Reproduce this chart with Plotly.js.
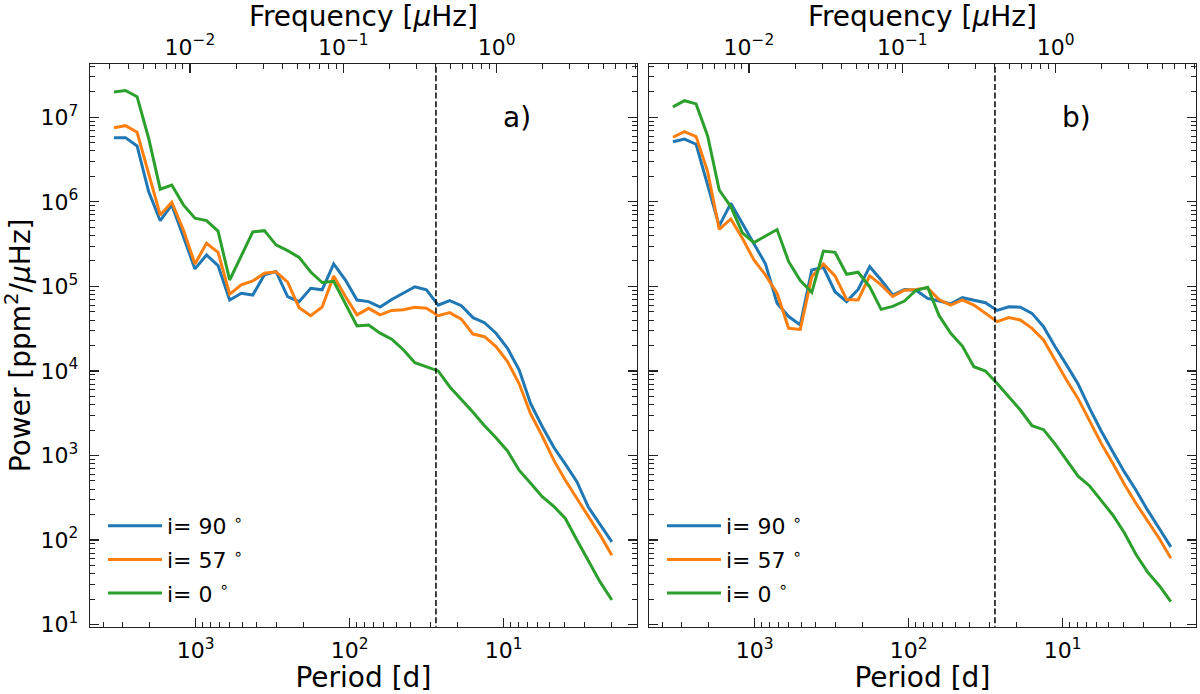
<!DOCTYPE html>
<html><head><meta charset="utf-8">
<script src="https://cdn.plot.ly/plotly-3.0.1.min.js"></script>
<style>html,body{margin:0;padding:0;background:#fff}#chart{width:1200px;height:694px}</style>
</head><body><div id="chart"></div>
<script>
// ---- data ----
const periods = [3401, 2860, 2405, 2023, 1701, 1431, 1203, 1012, 851, 716, 602, 506, 426, 358, 301, 253, 213, 179, 151, 127,
  106.5, 89.6, 75.3, 63.4, 53.3, 44.8, 37.7, 31.7, 26.6, 22.4, 18.8, 15.8, 13.3, 11.2, 9.43, 7.93, 6.67, 5.61, 4.72, 3.97, 3.34, 2.81, 2.36, 1.98];

const seriesLabels = ['i= 90 <sup>∘</sup>', 'i= 57 <sup>∘</sup>', 'i= 0 <sup>∘</sup>'];
const seriesColors = ['#1f77b4', '#ff7f0e', '#2ca02c'];

// panel a)
const powerA_i90 = [5.74e6, 5.74e6, 4.58e6, 1.32e6, 5.98e5, 9.2e5, 3.87e5, 1.61e5, 2.35e5, 1.76e5, 6.9e4, 8.3e4, 7.9e4, 1.37e5, 1.5e5, 7.55e4, 6.6e4, 9.5e4, 9.1e4, 1.84e5,
  1.19e5, 6.9e4, 6.6e4, 5.7e4, 7.0e4, 8.4e4, 9.9e4, 9.1e4, 6.0e4, 6.8e4, 5.9e4, 4.27e4, 3.72e4, 2.79e4, 1.85e4, 1.03e4, 4.1e3, 2.2e3, 1.25e3, 790, 490, 244, 150, 95];
const powerA_i57 = [7.53e6, 7.96e6, 6.65e6, 2.18e6, 6.98e5, 9.9e5, 4.65e5, 1.84e5, 3.24e5, 2.53e5, 8.1e4, 1.04e5, 1.16e5, 1.43e5, 1.49e5, 1.12e5, 5.6e4, 4.5e4, 5.7e4, 1.33e5,
  7.6e4, 4.6e4, 5.5e4, 4.6e4, 5.2e4, 5.3e4, 5.67e4, 5.5e4, 4.5e4, 4.9e4, 4.1e4, 2.73e4, 2.54e4, 1.94e4, 1.29e4, 7.1e3, 3.1e3, 1.7e3, 880, 510, 310, 190, 115, 66];
const powerA_i0 = [1.99e7, 2.07e7, 1.75e7, 5.65e6, 1.41e6, 1.58e6, 9.2e5, 6.4e5, 6.0e5, 4.5e5, 1.19e5, 2.25e5, 4.4e5, 4.56e5, 3.1e5, 2.65e5, 2.2e5, 1.48e5, 1.11e5, 1.15e5,
  6.2e4, 3.4e4, 3.5e4, 2.8e4, 2.37e4, 1.78e4, 1.25e4, 1.12e4, 1.0e4, 6.5e3, 4.6e3, 3.25e3, 2.25e3, 1.62e3, 1.13e3, 670, 470, 326, 250, 180, 100, 57, 32, 19.5];

// panel b)
const powerB_i90 = [5.14e6, 5.53e6, 4.8e6, 1.58e6, 5.2e5, 9.6e5, 5.6e5, 3.24e5, 1.84e5, 6.3e4, 4.4e4, 3.5e4, 1.56e5, 1.68e5, 8.65e4, 6.6e4, 9.2e4, 1.71e5, 1.19e5, 7.9e4,
  9.2e4, 9.0e4, 7.2e4, 6.7e4, 6.2e4, 7.35e4, 6.9e4, 6.4e4, 5.2e4, 5.75e4, 5.67e4, 4.8e4, 3.34e4, 1.94e4, 1.18e4, 7.0e3, 3.6e3, 1.95e3, 1.11e3, 640, 390, 227, 138, 83];
const powerB_i57 = [5.8e6, 6.76e6, 5.9e6, 2.28e6, 4.73e5, 6.27e5, 3.7e5, 2.05e5, 1.36e5, 8.3e4, 3.19e4, 3.1e4, 1.3e5, 1.84e5, 1.33e5, 7.0e4, 6.9e4, 1.33e5, 1.04e5, 7.6e4,
  9.0e4, 9.2e4, 9.6e4, 6.95e4, 6.0e4, 6.9e4, 6.0e4, 4.8e4, 3.83e4, 4.27e4, 4.0e4, 3.19e4, 2.32e4, 1.35e4, 7.8e3, 4.7e3, 2.5e3, 1.39e3, 810, 456, 272, 168, 105, 61];
const powerB_i0 = [1.33e7, 1.57e7, 1.44e7, 6.0e6, 1.38e6, 8.8e5, 4.3e5, 3.29e5, 3.94e5, 4.7e5, 1.96e5, 1.17e5, 8.5e4, 2.62e5, 2.53e5, 1.39e5, 1.47e5, 9.9e4, 5.35e4, 5.8e4,
  6.7e4, 9.0e4, 9.75e4, 4.5e4, 2.79e4, 1.97e4, 1.12e4, 9.98e3, 7.1e3, 4.9e3, 3.45e3, 2.25e3, 2.02e3, 1.37e3, 900, 570, 436, 290, 198, 122, 68, 42, 29, 18.7];

const rotationPeriod = 27.5;   // dashed vertical line [d]

const periodTickVals = [1000, 100, 10];
const periodTickText = ['10<sup>3</sup>', '10<sup>2</sup>', '10<sup>1</sup>'];
const freqTickVals = [0.01, 0.1, 1];
const freqTickText = ['10<sup>−2</sup>', '10<sup>−1</sup>', '10<sup>0</sup>'];
const powerTickVals = [10, 100, 1000, 1e4, 1e5, 1e6, 1e7];
const powerTickText = ['10<sup>1</sup>', '10<sup>2</sup>', '10<sup>3</sup>', '10<sup>4</sup>', '10<sup>5</sup>', '10<sup>6</sup>', '10<sup>7</sup>'];
const panelLabels = ['a)', 'b)'];

// ---- figure ----
const FONT = 'DejaVu Sans, Liberation Sans, sans-serif';
const AXC = '#222';
const panelsData = [[powerA_i90, powerA_i57, powerA_i0], [powerB_i90, powerB_i57, powerB_i0]];
const muHzPerInvDay = 1e6 / 86400;

const traces = [];
panelsData.forEach((set, p) => {
  const xa = p === 0 ? 'x' : 'x2', ya = p === 0 ? 'y' : 'y2';
  set.forEach((vals, k) => {
    traces.push({
      type: 'scatter', mode: 'lines', x: periods, y: vals, xaxis: xa, yaxis: ya,
      name: seriesLabels[k], line: {color: seriesColors[k], width: 3},
      legend: p === 0 ? 'legend' : 'legend2', legendgroup: 'g' + p + k, hoverinfo: 'skip'
    });
  });
  traces.push({
    type: 'scatter', mode: 'lines', x: [rotationPeriod, rotationPeriod], y: [1, 1e8], xaxis: xa, yaxis: ya,
    line: {color: 'black', width: 1.5, dash: '6px,2.6px'}, showlegend: false, hoverinfo: 'skip'
  });
  // invisible trace carrying the frequency axis
  traces.push({
    type: 'scatter', mode: 'lines', x: periods.map(v => muHzPerInvDay / v), y: set[0],
    xaxis: p === 0 ? 'x3' : 'x4', yaxis: ya, opacity: 0, line: {width: 0},
    showlegend: false, hoverinfo: 'skip'
  });
});

const xRange = [3.687, 0.1345];
const fRange = [-2.652, 0.9146];
const yRange = [0.975, 7.63];
const yDom = [1 - 626.7 / 694, 1 - 64 / 694];
const domA = [90 / 1200, 636.8 / 1200];
const domB = [649 / 1200, 1195.8 / 1200];

function periodAxis(dom, anchor) {
  return {
    domain: dom, anchor: anchor, type: 'log', range: xRange, autorange: false,
    tickmode: 'array', tickvals: periodTickVals, ticktext: periodTickText,
    ticks: 'inside', ticklen: 9, tickwidth: 1.2, tickcolor: AXC,
    minor: {ticks: 'inside', ticklen: 4.5, tickwidth: 1, tickcolor: AXC, dtick: 'D1', showgrid: false},
    showgrid: false, zeroline: false, showline: true, linecolor: AXC, linewidth: 1.2, mirror: true,
    tickfont: {size: 22, family: FONT, color: 'black'}, ticklabelstandoff: 4,
    title: {text: 'Period [d]', font: {size: 28, family: FONT, color: 'black'}, standoff: 8}
  };
}
function freqAxis(over, anchor) {
  return {
    overlaying: over, anchor: anchor, side: 'top', type: 'log', range: fRange, autorange: false,
    tickmode: 'array', tickvals: freqTickVals, ticktext: freqTickText,
    ticks: 'inside', ticklen: 9, tickwidth: 1.2, tickcolor: AXC,
    minor: {ticks: 'inside', ticklen: 4.5, tickwidth: 1, tickcolor: AXC, dtick: 'D1', showgrid: false},
    showgrid: false, zeroline: false, showline: false,
    tickfont: {size: 22, family: FONT, color: 'black'}, ticklabelstandoff: 4,
    title: {text: 'Frequency [<i>μ</i>Hz]', font: {size: 28, family: FONT, color: 'black'}, standoff: 4}
  };
}
function powerAxis(anchor, labels) {
  return {
    domain: yDom, anchor: anchor, type: 'log', range: yRange, autorange: false,
    tickmode: 'array', tickvals: powerTickVals, ticktext: powerTickText, showticklabels: labels,
    ticks: 'inside', ticklen: 9, tickwidth: 1.2, tickcolor: AXC,
    minor: {ticks: 'inside', ticklen: 4.5, tickwidth: 1, tickcolor: AXC, dtick: 'D1', showgrid: false},
    showgrid: false, zeroline: false, showline: true, linecolor: AXC, linewidth: 1.2, mirror: 'ticks',
    tickfont: {size: 22, family: FONT, color: 'black'}, ticklabelstandoff: 6,
    title: labels ? {text: 'Power [ppm<sup>2</sup>/<i>μ</i>Hz]', font: {size: 28, family: FONT, color: 'black'}, standoff: 8} : {text: ''}
  };
}
function legendAt(x) {
  return {
    x: x / 1200, y: 1 - 505 / 694, xanchor: 'left', yanchor: 'top', xref: 'paper', yref: 'paper',
    bgcolor: 'rgba(0,0,0,0)', borderwidth: 0, font: {size: 22, family: FONT, color: 'black'},
    itemwidth: 54, tracegroupgap: 2
  };
}

const layout = {
  width: 1200, height: 694, margin: {l: 0, r: 0, t: 0, b: 0},
  paper_bgcolor: 'white', plot_bgcolor: 'white',
  font: {family: FONT, color: 'black'},
  showlegend: true,
  xaxis: periodAxis(domA, 'y'),
  yaxis: powerAxis('x', true),
  xaxis2: periodAxis(domB, 'y2'),
  yaxis2: powerAxis('x2', false),
  xaxis3: freqAxis('x', 'y'),
  xaxis4: freqAxis('x2', 'y2'),
  legend: legendAt(103),
  legend2: legendAt(662),
  annotations: panelLabels.map((t, i) => ({
    text: t, xref: 'paper', yref: 'paper', x: (i === 0 ? 517 : 1076) / 1200, y: 1 - 118 / 694,
    xanchor: 'center', yanchor: 'middle', showarrow: false, font: {size: 28, family: FONT, color: 'black'}
  }))
};

Plotly.newPlot('chart', traces, layout, {displayModeBar: false, staticPlot: true});
</script></body></html>
